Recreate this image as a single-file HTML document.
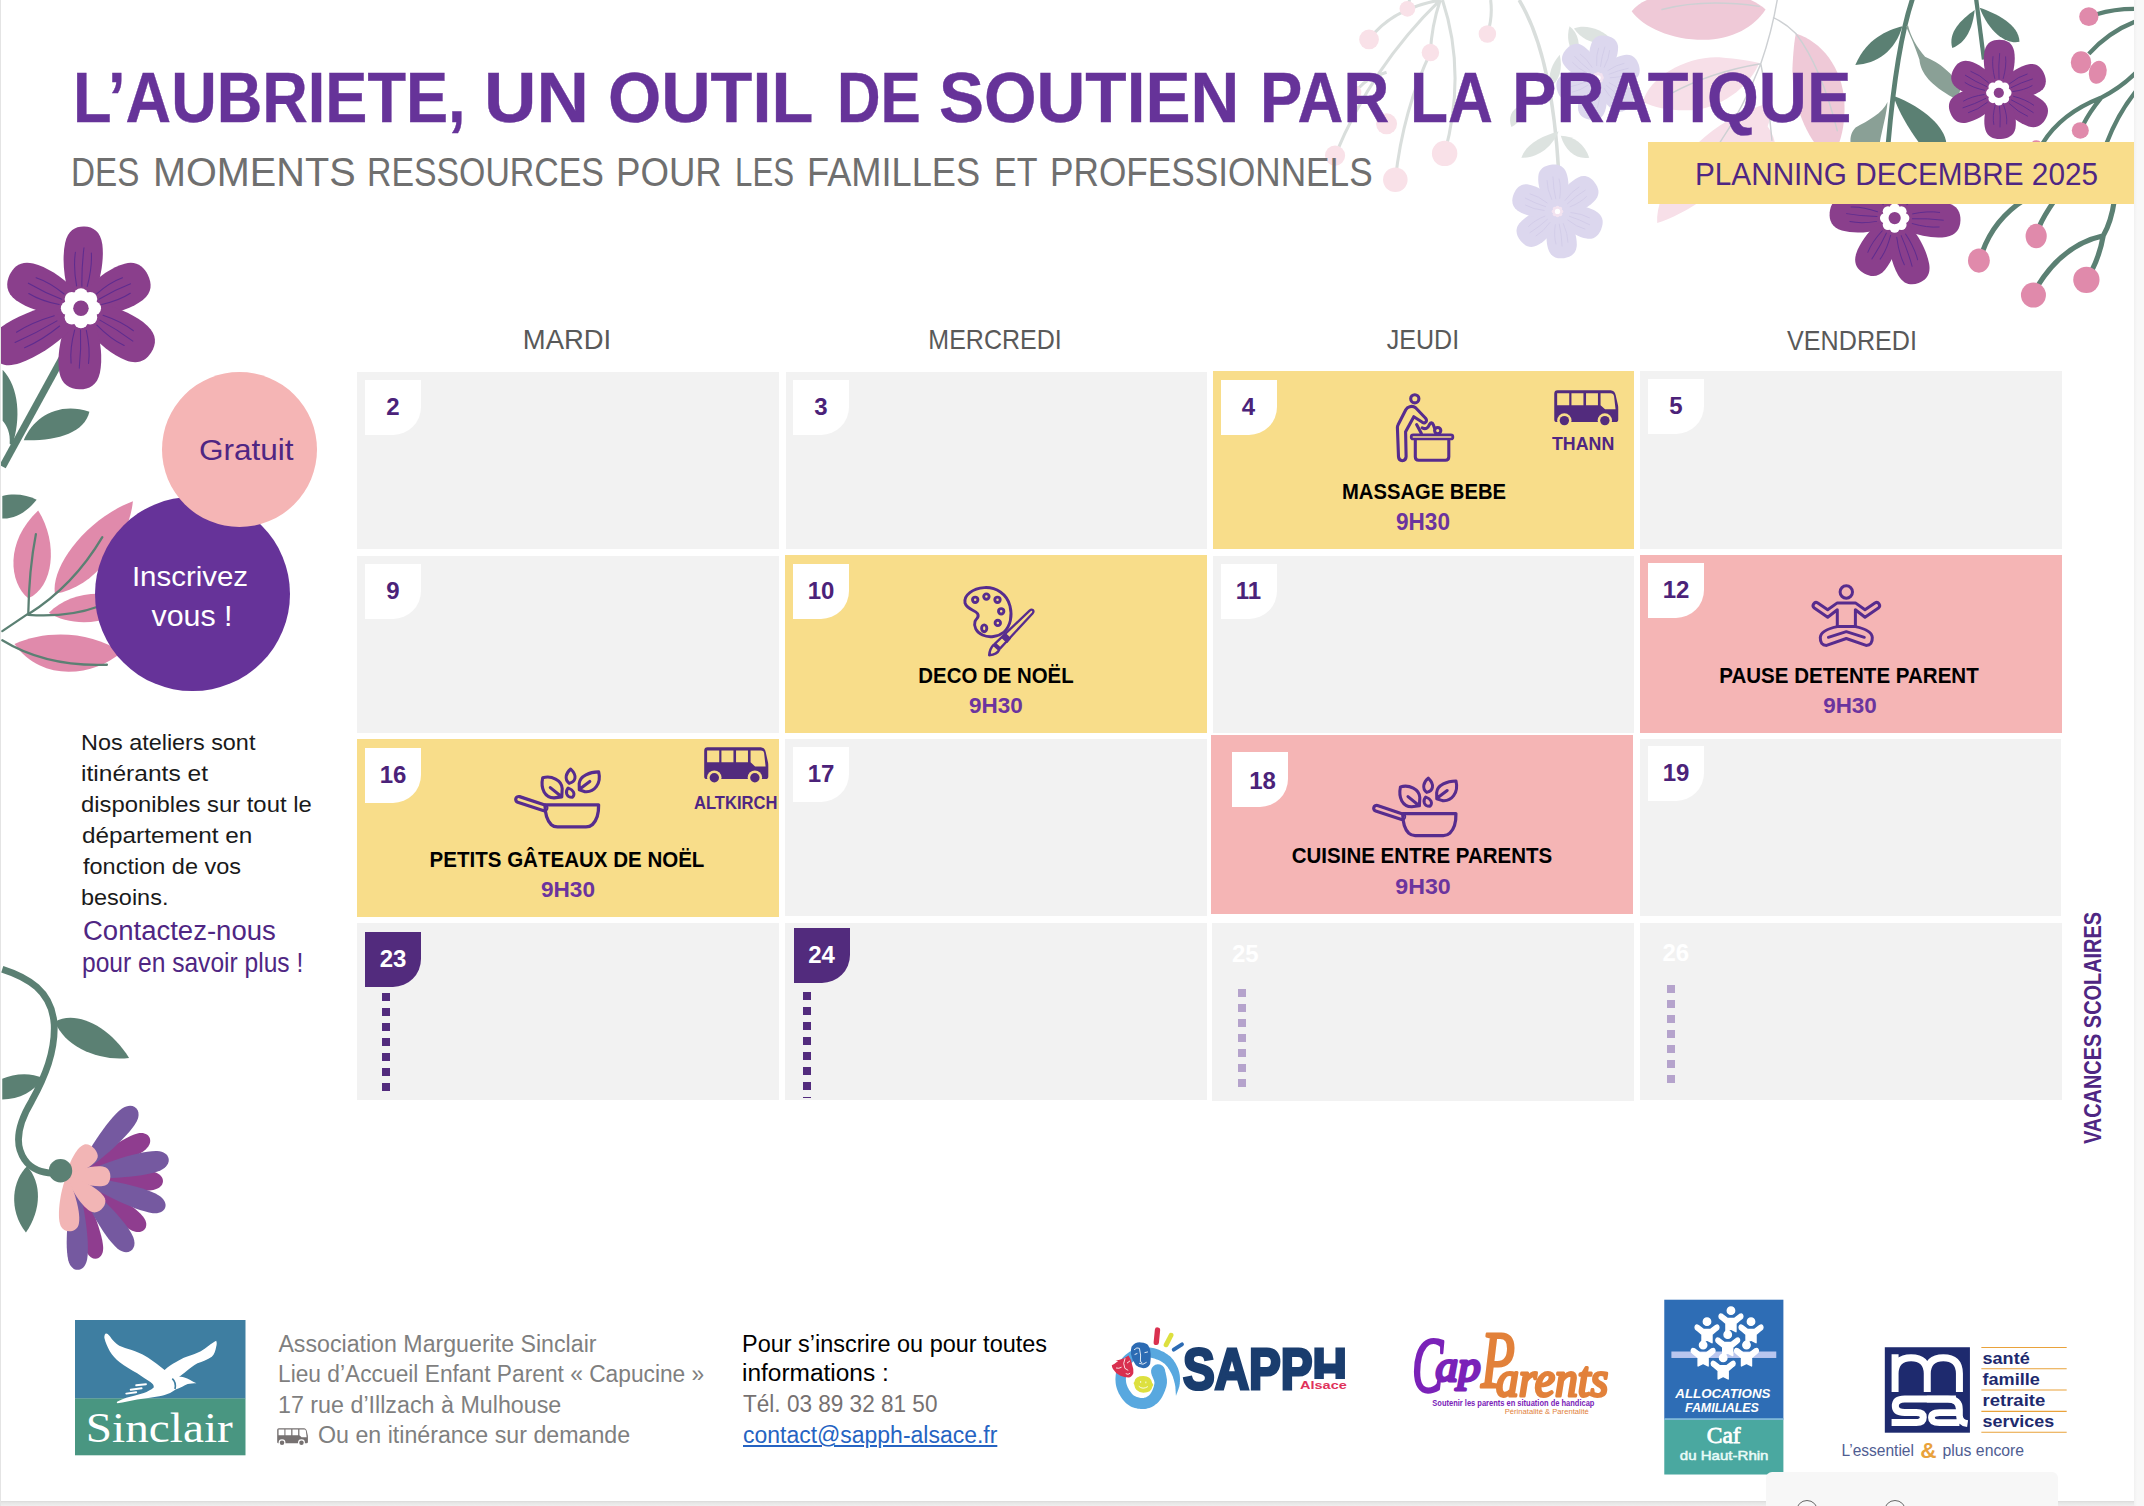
<!DOCTYPE html>
<html lang="fr">
<head>
<meta charset="utf-8">
<title>L’Aubriete – Planning décembre 2025</title>
<style>
*{box-sizing:border-box;margin:0;padding:0}
html,body{width:2144px;height:1506px;overflow:hidden;background:#f8f8f8;font-family:"Liberation Sans",sans-serif}
#page{position:absolute;left:0;top:0;width:2134px;height:1501px;background:#fff;overflow:hidden}
.a{position:absolute}
.t{position:absolute;white-space:nowrap;transform-origin:0 0;line-height:1}
.c{position:absolute;white-space:nowrap;line-height:1;text-align:center;transform-origin:50% 0}
.cell{position:absolute;width:421.5px;height:177px;background:#f2f2f2}
.y{background:#f8dd8a}
.p{background:#f5b5b5}
.bd{position:absolute;width:56px;height:55px;background:#fff;border-bottom-right-radius:28px;color:#4b2279;font-weight:bold;font-size:24px;line-height:53.6px;text-align:center}
.bd.dk{background:#522b7d;color:#fff}
.ttl{font-weight:bold;color:#000;font-size:22px}
.hr{font-weight:bold;color:#6b349e;font-size:23px}
.day{color:#595959;font-size:26px}
.dots{position:absolute;width:8px}
.dots i{display:block;width:8px;height:8px;margin-bottom:7px;background:#522b7d}
.dots.lt i{background:#b5a3cc}
svg{position:absolute;overflow:visible}
/*FIT*/
#pl{font-size:31.56px !important;top:159.00px !important;left:1695.10px !important;transform:scaleX(0.9420)}
#d1{font-size:27.09px !important;top:326.00px !important;left:367.40px !important;transform:scaleX(1.0136)}
#d2{font-size:27.09px !important;top:326.00px !important;left:795.20px !important;transform:scaleX(0.9226)}
#d3{font-size:27.09px !important;top:326.00px !important;left:1223.00px !important;transform:scaleX(0.9239)}
#d4{font-size:27.23px !important;top:327.00px !important;left:1651.60px !important;transform:scaleX(0.9230)}
#gr{font-size:29.75px !important;top:435.00px !important;left:198.80px !important;transform:scaleX(1.0597)}
#in1{font-size:28.49px !important;top:562.00px !important;left:90.30px !important;transform:scaleX(1.0337)}
#in2{font-size:28.90px !important;top:602.00px !important;left:91.90px !important;transform:scaleX(1.0520)}
#n1{font-size:21.93px !important;top:732.00px !important;left:81.10px !important;transform:scaleX(1.0681)}
#n2{font-size:21.93px !important;top:763.00px !important;left:81.40px !important;transform:scaleX(1.1213)}
#n3{font-size:21.93px !important;top:794.00px !important;left:81.00px !important;transform:scaleX(1.0881)}
#n4{font-size:21.93px !important;top:825.00px !important;left:81.60px !important;transform:scaleX(1.1095)}
#n5{font-size:21.93px !important;top:856.00px !important;left:83.40px !important;transform:scaleX(1.0723)}
#n6{font-size:21.93px !important;top:887.00px !important;left:81.30px !important;transform:scaleX(1.0708)}
#n7{font-size:27.79px !important;top:917.00px !important;left:82.80px !important;transform:scaleX(0.9906)}
#n8{font-size:27.36px !important;top:949.00px !important;left:81.80px !important;transform:scaleX(0.8980)}
#e4t{font-size:22.63px !important;top:481.00px !important;left:1213.60px !important;transform:scaleX(0.8933)}
#e4h{font-size:23.18px !important;top:511.00px !important;left:1212.60px !important;transform:scaleX(0.9735)}
#thann{font-size:18.30px !important;top:435.00px !important;left:1551.80px !important;transform:scaleX(0.9728)}
#e10t{font-size:22.63px !important;top:665.00px !important;left:785.70px !important;transform:scaleX(0.9018)}
#e10h{font-size:22.91px !important;top:694.00px !important;left:785.70px !important;transform:scaleX(0.9821)}
#e12t{font-size:22.49px !important;top:665.00px !important;left:1638.80px !important;transform:scaleX(0.9135)}
#e12h{font-size:22.91px !important;top:694.00px !important;left:1640.20px !important;transform:scaleX(0.9786)}
#e16t{font-size:22.63px !important;top:849.00px !important;left:357.20px !important;transform:scaleX(0.9070)}
#e16h{font-size:22.77px !important;top:878.00px !important;left:358.00px !important;transform:scaleX(0.9934)}
#e18t{font-size:22.77px !important;top:844.00px !important;left:1211.70px !important;transform:scaleX(0.9007)}
#e18h{font-size:22.91px !important;top:875.00px !important;left:1212.50px !important;transform:scaleX(1.0125)}
#altk{font-size:18.16px !important;top:794.00px !important;left:694.30px !important;transform:scaleX(0.9124)}
#f1{font-size:23.18px !important;top:1333.00px !important;left:278.40px !important;transform:scaleX(1.0000)}
#f2{font-size:23.18px !important;top:1363.00px !important;left:277.90px !important;transform:scaleX(0.9819)}
#f3{font-size:23.18px !important;top:1394.00px !important;left:278.30px !important;transform:scaleX(1.0043)}
#f4{font-size:23.18px !important;top:1424.00px !important;left:318.20px !important;transform:scaleX(1.0013)}
#g1{font-size:23.04px !important;top:1333.00px !important;left:742.20px !important;transform:scaleX(1.0182)}
#g2{font-size:23.04px !important;top:1362.00px !important;left:741.60px !important;transform:scaleX(1.0612)}
#g3{font-size:23.04px !important;top:1393.00px !important;left:743.00px !important;transform:scaleX(0.9797)}
#g4{font-size:23.04px !important;top:1424.00px !important;left:743.10px !important;transform:scaleX(0.9969)}
#h1a{font-size:71.23px !important;top:62.00px !important;left:73.20px !important;transform:scaleX(0.8857)}
#h1b{font-size:71.23px !important;top:62.00px !important;left:483.70px !important;transform:scaleX(1.0192)}
#h1c{font-size:71.23px !important;top:62.00px !important;left:607.90px !important;transform:scaleX(0.9606)}
#h1d{font-size:71.23px !important;top:62.00px !important;left:837.40px !important;transform:scaleX(0.8462)}
#h1e{font-size:71.23px !important;top:62.00px !important;left:939.00px !important;transform:scaleX(0.9484)}
#h1f{font-size:71.23px !important;top:62.00px !important;left:1259.70px !important;transform:scaleX(0.8907)}
#h1g{font-size:71.23px !important;top:62.00px !important;left:1410.10px !important;transform:scaleX(0.8728)}
#h1h{font-size:71.23px !important;top:62.00px !important;left:1511.60px !important;transform:scaleX(0.9358)}
#h2a{font-size:40.36px !important;top:152.00px !important;left:71.30px !important;transform:scaleX(0.8232)}
#h2b{font-size:40.36px !important;top:152.00px !important;left:152.50px !important;transform:scaleX(0.9821)}
#h2c{font-size:40.36px !important;top:152.00px !important;left:366.50px !important;transform:scaleX(0.8381)}
#h2d{font-size:40.36px !important;top:152.00px !important;left:615.70px !important;transform:scaleX(0.9073)}
#h2e{font-size:40.36px !important;top:152.00px !important;left:735.00px !important;transform:scaleX(0.7748)}
#h2f{font-size:40.36px !important;top:152.00px !important;left:806.70px !important;transform:scaleX(0.8979)}
#h2g{font-size:40.36px !important;top:152.00px !important;left:993.60px !important;transform:scaleX(0.8420)}
#h2h{font-size:40.36px !important;top:152.00px !important;left:1049.70px !important;transform:scaleX(0.8718)}
/*ENDFIT*/
</style>
</head>
<body>
<div id="page">
<!--FLORA-BG-->
<svg style="left:0;top:0" width="2134" height="1501" viewBox="0 0 2134 1501">
<g transform="translate(0 215) scale(0.17596)"><path d="M390 745L15 1430" stroke="#5b8073" stroke-width="40" fill="none"/><path d="M135 1280C190 1150 330 1060 508 1118C480 1240 320 1285 135 1280Z" fill="#5b8073"/><path d="M15 880C110 980 120 1160 70 1310L55 1300C60 1240 40 1200 15 1170Z" fill="#5b8073"/><g transform="translate(460 530)"><path transform="rotate(2.5)" d="M0 0L-77.8 -93.1C-108.0 -186.2 -118.8 -288.6 -105.8 -367.7C-92.9 -442.2 -48.6 -465.4 0 -465.4C48.6 -465.4 92.9 -442.2 105.8 -367.7C118.8 -288.6 108.0 -186.2 77.8 -93.1Z" fill="#8a3f8c"/><path transform="rotate(63.4)" d="M0 0L-85.0 -85.0C-118.0 -169.9 -129.8 -263.4 -115.6 -335.6C-101.5 -403.6 -53.1 -424.9 0 -424.9C53.1 -424.9 101.5 -403.6 115.6 -335.6C129.8 -263.4 118.0 -169.9 85.0 -85.0Z" fill="#8a3f8c"/><path transform="rotate(122.0)" d="M0 0L-85.0 -94.3C-118.0 -188.7 -129.8 -292.5 -115.6 -372.6C-101.5 -448.1 -53.1 -471.7 0 -471.7C53.1 -471.7 101.5 -448.1 115.6 -372.6C129.8 -292.5 118.0 -188.7 85.0 -94.3Z" fill="#8a3f8c"/><path transform="rotate(-178.8)" d="M0 0L-85.0 -92.0C-118.0 -184.0 -129.8 -285.3 -115.6 -363.5C-101.5 -437.1 -53.1 -460.1 0 -460.1C53.1 -460.1 101.5 -437.1 115.6 -363.5C129.8 -285.3 118.0 -184.0 85.0 -92.0Z" fill="#8a3f8c"/><path transform="rotate(-117.7)" d="M0 0L-85.0 -114.1C-118.0 -228.1 -129.8 -353.6 -115.6 -450.5C-101.5 -541.8 -53.1 -570.3 0 -570.3C53.1 -570.3 101.5 -541.8 115.6 -450.5C129.8 -353.6 118.0 -228.1 85.0 -114.1Z" fill="#8a3f8c"/><path transform="rotate(-64.9)" d="M0 0L-85.0 -89.5C-118.0 -178.9 -129.8 -277.4 -115.6 -353.4C-101.5 -425.0 -53.1 -447.4 0 -447.4C53.1 -447.4 101.5 -425.0 115.6 -353.4C129.8 -277.4 118.0 -178.9 85.0 -89.5Z" fill="#8a3f8c"/><path transform="rotate(2.5)" d="M-30.2 -125.7Q-54.0 -232.7 -45.4 -316.5M0 -125.7Q-6.5 -232.7 2.2 -344.4M30.2 -125.7Q54.0 -232.7 45.4 -316.5" fill="none" stroke="#5e2c8f" stroke-width="6" stroke-linecap="round"/><path transform="rotate(63.4)" d="M-33.0 -114.7Q-59.0 -212.4 -49.6 -288.9M0 -114.7Q-7.1 -212.4 2.4 -314.4M33.0 -114.7Q59.0 -212.4 49.6 -288.9" fill="none" stroke="#5e2c8f" stroke-width="6" stroke-linecap="round"/><path transform="rotate(122.0)" d="M-33.0 -127.4Q-59.0 -235.8 -49.6 -320.8M0 -127.4Q-7.1 -235.8 2.4 -349.1M33.0 -127.4Q59.0 -235.8 49.6 -320.8" fill="none" stroke="#5e2c8f" stroke-width="6" stroke-linecap="round"/><path transform="rotate(-178.8)" d="M-33.0 -124.2Q-59.0 -230.1 -49.6 -312.9M0 -124.2Q-7.1 -230.1 2.4 -340.5M33.0 -124.2Q59.0 -230.1 49.6 -312.9" fill="none" stroke="#5e2c8f" stroke-width="6" stroke-linecap="round"/><path transform="rotate(-117.7)" d="M-33.0 -154.0Q-59.0 -285.2 -49.6 -387.8M0 -154.0Q-7.1 -285.2 2.4 -422.0M33.0 -154.0Q59.0 -285.2 49.6 -387.8" fill="none" stroke="#5e2c8f" stroke-width="6" stroke-linecap="round"/><path transform="rotate(-64.9)" d="M-33.0 -120.8Q-59.0 -223.7 -49.6 -304.2M0 -120.8Q-7.1 -223.7 2.4 -331.0M33.0 -120.8Q59.0 -223.7 49.6 -304.2" fill="none" stroke="#5e2c8f" stroke-width="6" stroke-linecap="round"/><circle r="87.4" fill="#fff"/><circle cx="73.9" cy="0.0" r="40.3" fill="#fff"/><circle cx="52.3" cy="52.3" r="40.3" fill="#fff"/><circle cx="0.0" cy="73.9" r="40.3" fill="#fff"/><circle cx="-52.3" cy="52.3" r="40.3" fill="#fff"/><circle cx="-73.9" cy="0.0" r="40.3" fill="#fff"/><circle cx="-52.3" cy="-52.3" r="40.3" fill="#fff"/><circle cx="-0.0" cy="-73.9" r="40.3" fill="#fff"/><circle cx="52.3" cy="-52.3" r="40.3" fill="#fff"/><circle r="44" fill="#8a3f8c"/></g></g>
<g transform="translate(0 470) scale(0.15274)"><path d="M15 170C100 150 180 165 240 195C180 270 100 322 15 318Z" fill="#5b8073"/><path d="M185 840C60 740 30 470 250 265C385 480 350 770 185 840Z" fill="#e08aab"/><path d="M360 810C330 640 560 320 870 205C850 430 640 770 360 810Z" fill="#e08aab"/><path d="M320 935C420 835 560 795 720 815L720 965C600 1015 420 1005 320 935Z" fill="#e08aab"/><path d="M95 1140C300 1045 600 1055 795 1195C620 1345 280 1400 95 1140Z" fill="#e08aab"/><path d="M15 1055L185 940M185 945Q190 650 235 420M185 945Q480 760 670 440M185 948Q450 965 640 895M15 1115Q300 1290 700 1275" stroke="#5b8073" stroke-width="15" fill="none" stroke-linecap="round"/></g>
<g transform="translate(0 950) scale(0.22573)"><path d="M10 85C120 120 230 180 240 330C245 450 200 560 140 670C80 770 60 860 110 930C140 975 190 985 235 990" stroke="#5b8073" stroke-width="30" fill="none"/><path d="M243 318C330 265 480 330 572 478C450 495 290 435 243 318Z" fill="#5b8073"/><path d="M190 568C135 540 60 548 10 570L10 662C85 662 155 625 190 568Z" fill="#5b8073"/><path d="M120 958C55 1020 35 1150 115 1252C185 1150 185 1030 120 958Z" fill="#5b8073"/><path transform="translate(335 1005) rotate(61.7)" d="M0 0C-26.4 -73.8 -57.2 -258.4 -39.6 -332.2C-26.4 -383.9 26.4 -383.9 39.6 -332.2C57.2 -258.4 26.4 -73.8 0 0Z" fill="#8f3d8f"/><path transform="translate(335 1005) rotate(93.0)" d="M0 0C-26.4 -77.1 -57.2 -269.9 -39.6 -347.0C-26.4 -400.9 26.4 -400.9 39.6 -347.0C57.2 -269.9 26.4 -77.1 0 0Z" fill="#8f3d8f"/><path transform="translate(335 1005) rotate(127.0)" d="M0 0C-26.4 -76.4 -57.2 -267.4 -39.6 -343.8C-26.4 -397.3 26.4 -397.3 39.6 -343.8C57.2 -267.4 26.4 -76.4 0 0Z" fill="#8f3d8f"/><path transform="translate(335 1005) rotate(165.2)" d="M0 0C-25.2 -74.5 -54.6 -260.6 -37.8 -335.1C-25.2 -387.2 25.2 -387.2 37.8 -335.1C54.6 -260.6 25.2 -74.5 0 0Z" fill="#8f3d8f"/><path transform="translate(335 1005) rotate(41.0)" d="M0 0C-28.8 -80.8 -62.4 -282.8 -43.2 -363.6C-28.8 -420.2 28.8 -420.2 43.2 -363.6C62.4 -282.8 28.8 -80.8 0 0Z" fill="#7559a0"/><path transform="translate(335 1005) rotate(79.0)" d="M0 0C-28.8 -83.5 -62.4 -292.4 -43.2 -376.0C-28.8 -434.4 28.8 -434.4 43.2 -376.0C62.4 -292.4 28.8 -83.5 0 0Z" fill="#7559a0"/><path transform="translate(335 1005) rotate(108.9)" d="M0 0C-27.6 -83.5 -59.8 -292.2 -41.4 -375.7C-27.6 -434.1 27.6 -434.1 41.4 -375.7C59.8 -292.2 27.6 -83.5 0 0Z" fill="#7559a0"/><path transform="translate(335 1005) rotate(143.0)" d="M0 0C-28.8 -81.4 -62.4 -284.9 -43.2 -366.3C-28.8 -423.3 28.8 -423.3 43.2 -366.3C62.4 -284.9 28.8 -81.4 0 0Z" fill="#7559a0"/><path transform="translate(335 1005) rotate(178.6)" d="M0 0C-27.6 -82.0 -59.8 -287.1 -41.4 -369.1C-27.6 -426.5 27.6 -426.5 41.4 -369.1C59.8 -287.1 27.6 -82.0 0 0Z" fill="#7559a0"/><path transform="translate(295 1000) rotate(44.5)" d="M0 0C-27.6 -34.2 -59.8 -119.8 -41.4 -154.0C-27.6 -178.0 27.6 -178.0 41.4 -154.0C59.8 -119.8 27.6 -34.2 0 0Z" fill="#f2b5b5"/><path transform="translate(295 1000) rotate(90.9)" d="M0 0C-26.4 -38.6 -57.2 -135.1 -39.6 -173.7C-26.4 -200.7 26.4 -200.7 39.6 -173.7C57.2 -135.1 26.4 -38.6 0 0Z" fill="#f2b5b5"/><path transform="translate(295 1000) rotate(132.7)" d="M0 0C-27.6 -42.7 -59.8 -149.6 -41.4 -192.3C-27.6 -222.3 27.6 -222.3 41.4 -192.3C59.8 -149.6 27.6 -42.7 0 0Z" fill="#f2b5b5"/><path transform="translate(295 1000) rotate(176.5)" d="M0 0C-26.4 -49.1 -57.2 -171.8 -39.6 -220.9C-26.4 -255.3 26.4 -255.3 39.6 -220.9C57.2 -171.8 26.4 -49.1 0 0Z" fill="#f2b5b5"/><circle cx="268" cy="978" r="52" fill="#5b8073"/></g>
<g transform="translate(1300 0) scale(0.21915)"><path d="M640 0Q420 40 315 180M640 0Q600 120 595 240M640 0Q330 300 160 710M650 0Q760 330 660 700M600 230Q470 500 435 820M870 0Q880 80 855 155M500 0L490 40M395 330Q300 360 270 400" stroke="#d9dedc" stroke-width="14" fill="none"/><circle cx="315" cy="180" r="45" fill="#f9e1e8"/><circle cx="490" cy="40" r="36" fill="#f9e1e8"/><circle cx="595" cy="240" r="40" fill="#f9e1e8"/><circle cx="855" cy="155" r="40" fill="#f9e1e8"/><circle cx="395" cy="565" r="48" fill="#f9e1e8"/><circle cx="160" cy="710" r="46" fill="#f9e1e8"/><circle cx="660" cy="700" r="58" fill="#f9e1e8"/><circle cx="435" cy="820" r="56" fill="#f9e1e8"/><circle cx="250" cy="420" r="30" fill="#f9e1e8"/><path d="M1000 0Q1150 250 1180 780" stroke="#d9dedc" stroke-width="16" fill="none"/><path d="M1250 130C1300 110 1380 130 1425 185C1370 215 1290 190 1250 130Z" fill="#dde3e0"/><path d="M1185 250C1150 290 1130 340 1140 400C1185 370 1200 310 1185 250Z" fill="#dde3e0"/><path d="M1230 120C1215 170 1225 220 1260 260C1285 210 1270 150 1230 120Z" fill="#dde3e0"/><path d="M1180 600C1100 620 1030 660 1010 720C1090 720 1150 670 1180 600Z" fill="#dde3e0"/><path d="M1190 620C1250 620 1300 660 1320 720C1260 730 1210 690 1190 620Z" fill="#dde3e0"/><path d="M1010 480C960 500 950 540 965 580C1005 560 1020 520 1010 480Z" fill="#dde3e0"/><g transform="translate(1360 355)"><path transform="rotate(12.0)" d="M0 0L-44.6 -39.0C-62.0 -78.0 -68.2 -120.9 -60.8 -154.1C-53.3 -185.2 -27.9 -195.0 0 -195.0C27.9 -195.0 53.3 -185.2 60.8 -154.1C68.2 -120.9 62.0 -78.0 44.6 -39.0Z" fill="#dcd7ee"/><path transform="rotate(72.0)" d="M0 0L-44.6 -39.0C-62.0 -78.0 -68.2 -120.9 -60.8 -154.1C-53.3 -185.2 -27.9 -195.0 0 -195.0C27.9 -195.0 53.3 -185.2 60.8 -154.1C68.2 -120.9 62.0 -78.0 44.6 -39.0Z" fill="#dcd7ee"/><path transform="rotate(132.0)" d="M0 0L-44.6 -39.0C-62.0 -78.0 -68.2 -120.9 -60.8 -154.1C-53.3 -185.2 -27.9 -195.0 0 -195.0C27.9 -195.0 53.3 -185.2 60.8 -154.1C68.2 -120.9 62.0 -78.0 44.6 -39.0Z" fill="#dcd7ee"/><path transform="rotate(192.0)" d="M0 0L-44.6 -39.0C-62.0 -78.0 -68.2 -120.9 -60.8 -154.1C-53.3 -185.2 -27.9 -195.0 0 -195.0C27.9 -195.0 53.3 -185.2 60.8 -154.1C68.2 -120.9 62.0 -78.0 44.6 -39.0Z" fill="#dcd7ee"/><path transform="rotate(252.0)" d="M0 0L-44.6 -39.0C-62.0 -78.0 -68.2 -120.9 -60.8 -154.1C-53.3 -185.2 -27.9 -195.0 0 -195.0C27.9 -195.0 53.3 -185.2 60.8 -154.1C68.2 -120.9 62.0 -78.0 44.6 -39.0Z" fill="#dcd7ee"/><path transform="rotate(312.0)" d="M0 0L-44.6 -39.0C-62.0 -78.0 -68.2 -120.9 -60.8 -154.1C-53.3 -185.2 -27.9 -195.0 0 -195.0C27.9 -195.0 53.3 -185.2 60.8 -154.1C68.2 -120.9 62.0 -78.0 44.6 -39.0Z" fill="#dcd7ee"/><path transform="rotate(12.0)" d="M-17.4 -52.7Q-31.0 -97.5 -26.0 -132.6M0 -52.7Q-3.7 -97.5 1.2 -144.3M17.4 -52.7Q31.0 -97.5 26.0 -132.6" fill="none" stroke="#d2cce8" stroke-width="4" stroke-linecap="round"/><path transform="rotate(72.0)" d="M-17.4 -52.7Q-31.0 -97.5 -26.0 -132.6M0 -52.7Q-3.7 -97.5 1.2 -144.3M17.4 -52.7Q31.0 -97.5 26.0 -132.6" fill="none" stroke="#d2cce8" stroke-width="4" stroke-linecap="round"/><path transform="rotate(132.0)" d="M-17.4 -52.7Q-31.0 -97.5 -26.0 -132.6M0 -52.7Q-3.7 -97.5 1.2 -144.3M17.4 -52.7Q31.0 -97.5 26.0 -132.6" fill="none" stroke="#d2cce8" stroke-width="4" stroke-linecap="round"/><path transform="rotate(192.0)" d="M-17.4 -52.7Q-31.0 -97.5 -26.0 -132.6M0 -52.7Q-3.7 -97.5 1.2 -144.3M17.4 -52.7Q31.0 -97.5 26.0 -132.6" fill="none" stroke="#d2cce8" stroke-width="4" stroke-linecap="round"/><path transform="rotate(252.0)" d="M-17.4 -52.7Q-31.0 -97.5 -26.0 -132.6M0 -52.7Q-3.7 -97.5 1.2 -144.3M17.4 -52.7Q31.0 -97.5 26.0 -132.6" fill="none" stroke="#d2cce8" stroke-width="4" stroke-linecap="round"/><path transform="rotate(312.0)" d="M-17.4 -52.7Q-31.0 -97.5 -26.0 -132.6M0 -52.7Q-3.7 -97.5 1.2 -144.3M17.4 -52.7Q31.0 -97.5 26.0 -132.6" fill="none" stroke="#d2cce8" stroke-width="4" stroke-linecap="round"/><circle r="20.3" fill="#f3e3f0"/><circle cx="17.2" cy="0.0" r="9.4" fill="#f3e3f0"/><circle cx="12.1" cy="12.1" r="9.4" fill="#f3e3f0"/><circle cx="0.0" cy="17.2" r="9.4" fill="#f3e3f0"/><circle cx="-12.1" cy="12.1" r="9.4" fill="#f3e3f0"/><circle cx="-17.2" cy="0.0" r="9.4" fill="#f3e3f0"/><circle cx="-12.1" cy="-12.1" r="9.4" fill="#f3e3f0"/><circle cx="-0.0" cy="-17.2" r="9.4" fill="#f3e3f0"/><circle cx="12.1" cy="-12.1" r="9.4" fill="#f3e3f0"/><circle r="12" fill="#fff"/></g><g transform="translate(1175 965)"><path transform="rotate(-8.0)" d="M0 0L-47.5 -43.0C-66.0 -86.0 -72.6 -133.3 -64.7 -169.8C-56.8 -204.2 -29.7 -215.0 0 -215.0C29.7 -215.0 56.8 -204.2 64.7 -169.8C72.6 -133.3 66.0 -86.0 47.5 -43.0Z" fill="#dcd7ee"/><path transform="rotate(52.0)" d="M0 0L-47.5 -43.0C-66.0 -86.0 -72.6 -133.3 -64.7 -169.8C-56.8 -204.2 -29.7 -215.0 0 -215.0C29.7 -215.0 56.8 -204.2 64.7 -169.8C72.6 -133.3 66.0 -86.0 47.5 -43.0Z" fill="#dcd7ee"/><path transform="rotate(112.0)" d="M0 0L-47.5 -43.0C-66.0 -86.0 -72.6 -133.3 -64.7 -169.8C-56.8 -204.2 -29.7 -215.0 0 -215.0C29.7 -215.0 56.8 -204.2 64.7 -169.8C72.6 -133.3 66.0 -86.0 47.5 -43.0Z" fill="#dcd7ee"/><path transform="rotate(172.0)" d="M0 0L-47.5 -43.0C-66.0 -86.0 -72.6 -133.3 -64.7 -169.8C-56.8 -204.2 -29.7 -215.0 0 -215.0C29.7 -215.0 56.8 -204.2 64.7 -169.8C72.6 -133.3 66.0 -86.0 47.5 -43.0Z" fill="#dcd7ee"/><path transform="rotate(232.0)" d="M0 0L-47.5 -43.0C-66.0 -86.0 -72.6 -133.3 -64.7 -169.8C-56.8 -204.2 -29.7 -215.0 0 -215.0C29.7 -215.0 56.8 -204.2 64.7 -169.8C72.6 -133.3 66.0 -86.0 47.5 -43.0Z" fill="#dcd7ee"/><path transform="rotate(292.0)" d="M0 0L-47.5 -43.0C-66.0 -86.0 -72.6 -133.3 -64.7 -169.8C-56.8 -204.2 -29.7 -215.0 0 -215.0C29.7 -215.0 56.8 -204.2 64.7 -169.8C72.6 -133.3 66.0 -86.0 47.5 -43.0Z" fill="#dcd7ee"/><path transform="rotate(-8.0)" d="M-18.5 -58.1Q-33.0 -107.5 -27.7 -146.2M0 -58.1Q-4.0 -107.5 1.3 -159.1M18.5 -58.1Q33.0 -107.5 27.7 -146.2" fill="none" stroke="#d2cce8" stroke-width="4" stroke-linecap="round"/><path transform="rotate(52.0)" d="M-18.5 -58.1Q-33.0 -107.5 -27.7 -146.2M0 -58.1Q-4.0 -107.5 1.3 -159.1M18.5 -58.1Q33.0 -107.5 27.7 -146.2" fill="none" stroke="#d2cce8" stroke-width="4" stroke-linecap="round"/><path transform="rotate(112.0)" d="M-18.5 -58.1Q-33.0 -107.5 -27.7 -146.2M0 -58.1Q-4.0 -107.5 1.3 -159.1M18.5 -58.1Q33.0 -107.5 27.7 -146.2" fill="none" stroke="#d2cce8" stroke-width="4" stroke-linecap="round"/><path transform="rotate(172.0)" d="M-18.5 -58.1Q-33.0 -107.5 -27.7 -146.2M0 -58.1Q-4.0 -107.5 1.3 -159.1M18.5 -58.1Q33.0 -107.5 27.7 -146.2" fill="none" stroke="#d2cce8" stroke-width="4" stroke-linecap="round"/><path transform="rotate(232.0)" d="M-18.5 -58.1Q-33.0 -107.5 -27.7 -146.2M0 -58.1Q-4.0 -107.5 1.3 -159.1M18.5 -58.1Q33.0 -107.5 27.7 -146.2" fill="none" stroke="#d2cce8" stroke-width="4" stroke-linecap="round"/><path transform="rotate(292.0)" d="M-18.5 -58.1Q-33.0 -107.5 -27.7 -146.2M0 -58.1Q-4.0 -107.5 1.3 -159.1M18.5 -58.1Q33.0 -107.5 27.7 -146.2" fill="none" stroke="#d2cce8" stroke-width="4" stroke-linecap="round"/><circle r="20.3" fill="#f3e3f0"/><circle cx="17.2" cy="0.0" r="9.4" fill="#f3e3f0"/><circle cx="12.1" cy="12.1" r="9.4" fill="#f3e3f0"/><circle cx="0.0" cy="17.2" r="9.4" fill="#f3e3f0"/><circle cx="-12.1" cy="12.1" r="9.4" fill="#f3e3f0"/><circle cx="-17.2" cy="0.0" r="9.4" fill="#f3e3f0"/><circle cx="-12.1" cy="-12.1" r="9.4" fill="#f3e3f0"/><circle cx="-0.0" cy="-17.2" r="9.4" fill="#f3e3f0"/><circle cx="12.1" cy="-12.1" r="9.4" fill="#f3e3f0"/><circle r="12" fill="#fff"/></g></g>
<g transform="translate(1560 0) scale(0.15934)"><path d="M610 1400C600 1200 800 900 1050 760C1200 680 1290 650 1330 640C1340 800 1200 1050 900 1250C800 1320 700 1370 610 1400Z" fill="#f7dfe8"/><path d="M520 640C560 480 800 350 1000 360C1120 370 1200 385 1250 395C1200 520 1050 660 850 690C720 700 600 680 520 640Z" fill="#f7dfe8"/><path d="M1200 700C1260 740 1330 800 1350 900L1180 900C1170 820 1180 760 1200 700Z" fill="#f7dfe8"/><path d="M450 70C520 -20 700 -60 900 -60C1080 -60 1230 0 1290 60C1220 170 1080 250 900 250C700 250 520 170 450 70Z" fill="#efc9d7"/><path d="M1480 210C1640 260 1770 420 1785 640C1790 760 1770 850 1750 900L1600 900C1500 760 1450 560 1460 400C1465 320 1470 260 1480 210Z" fill="#efc9d7"/><path d="M1365 -10Q1330 200 1260 400Q1150 680 1000 900M1340 110Q1420 150 1480 210Q1640 420 1740 820M1260 400Q950 450 690 590M1260 400Q1310 640 1330 880M640 60Q900 -10 1250 40" stroke="#cdd0d3" stroke-width="9" fill="none" stroke-linecap="round"/></g>
<g transform="translate(1840 0) scale(0.14178)"><path d="M512 -10Q400 320 340 1010" stroke="#5b8073" stroke-width="34" fill="none"/><path d="M960 -10L1015 420" stroke="#5b8073" stroke-width="30" fill="none"/><path d="M440 185C330 215 190 270 108 458C260 450 390 360 440 185Z" fill="#5b8073"/><path d="M465 185C500 260 530 330 560 420C570 520 640 600 800 690C830 690 845 660 850 620C800 520 700 440 600 400C540 330 500 260 480 180Z" fill="#8aa096"/><path d="M375 675C420 800 480 900 560 1010L750 1010C740 900 600 760 375 675Z" fill="#5b8073"/><path d="M335 720C300 800 200 850 110 900C80 930 70 970 75 1010L280 1010C300 900 330 800 335 720Z" fill="#8aa096"/><path d="M950 70C850 140 760 230 792 338C890 300 935 200 950 70Z" fill="#5b8073"/><path d="M985 55C1100 95 1262 170 1266 295C1190 315 1060 250 985 55Z" fill="#5b8073"/><path d="M1810 100Q1940 60 2090 62M1755 380Q1900 220 2090 150M1430 1010Q1560 800 1840 690Q1980 620 2090 510M1840 692Q1760 790 1715 880M1880 1010Q1960 800 2090 640" stroke="#5b8073" stroke-width="30" fill="none"/><ellipse cx="1755" cy="118" rx="68" ry="66" fill="#e08aab" transform="rotate(0 1755 118)"/><ellipse cx="1700" cy="440" rx="72" ry="78" fill="#e08aab" transform="rotate(0 1700 440)"/><ellipse cx="1818" cy="510" rx="62" ry="82" fill="#e08aab" transform="rotate(15 1818 510)"/><ellipse cx="1695" cy="920" rx="60" ry="58" fill="#e08aab" transform="rotate(0 1695 920)"/><ellipse cx="1385" cy="1040" rx="50" ry="50" fill="#e08aab" transform="rotate(0 1385 1040)"/><g transform="translate(1120 655)"><path transform="rotate(0.8)" d="M0 0L-76.3 -75.0C-106.0 -150.0 -116.6 -232.5 -103.9 -296.3C-91.2 -356.3 -47.7 -375.0 0 -375.0C47.7 -375.0 91.2 -356.3 103.9 -296.3C116.6 -232.5 106.0 -150.0 76.3 -75.0Z" fill="#8a3f8c"/><path transform="rotate(67.1)" d="M0 0L-76.3 -69.5C-106.0 -138.9 -116.6 -215.3 -103.9 -274.4C-91.2 -329.9 -47.7 -347.3 0 -347.3C47.7 -347.3 91.2 -329.9 103.9 -274.4C116.6 -215.3 106.0 -138.9 76.3 -69.5Z" fill="#8a3f8c"/><path transform="rotate(119.3)" d="M0 0L-76.3 -75.7C-106.0 -151.3 -116.6 -234.6 -103.9 -298.9C-91.2 -359.4 -47.7 -378.3 0 -378.3C47.7 -378.3 91.2 -359.4 103.9 -298.9C116.6 -234.6 106.0 -151.3 76.3 -75.7Z" fill="#8a3f8c"/><path transform="rotate(177.4)" d="M0 0L-77.8 -65.1C-108.0 -130.1 -118.8 -201.7 -105.8 -257.0C-92.9 -309.1 -48.6 -325.3 0 -325.3C48.6 -325.3 92.9 -309.1 105.8 -257.0C118.8 -201.7 108.0 -130.1 77.8 -65.1Z" fill="#8a3f8c"/><path transform="rotate(-113.1)" d="M0 0L-76.3 -73.9C-106.0 -147.9 -116.6 -229.2 -103.9 -292.0C-91.2 -351.1 -47.7 -369.6 0 -369.6C47.7 -369.6 91.2 -351.1 103.9 -292.0C116.6 -229.2 106.0 -147.9 76.3 -73.9Z" fill="#8a3f8c"/><path transform="rotate(-62.7)" d="M0 0L-76.3 -72.0C-106.0 -144.0 -116.6 -223.2 -103.9 -284.4C-91.2 -342.0 -47.7 -360.0 0 -360.0C47.7 -360.0 91.2 -342.0 103.9 -284.4C116.6 -223.2 106.0 -144.0 76.3 -72.0Z" fill="#8a3f8c"/><path transform="rotate(0.8)" d="M-29.7 -101.3Q-53.0 -187.5 -44.5 -255.0M0 -101.3Q-6.4 -187.5 2.1 -277.5M29.7 -101.3Q53.0 -187.5 44.5 -255.0" fill="none" stroke="#5e2c8f" stroke-width="6" stroke-linecap="round"/><path transform="rotate(67.1)" d="M-29.7 -93.8Q-53.0 -173.7 -44.5 -236.2M0 -93.8Q-6.4 -173.7 2.1 -257.0M29.7 -93.8Q53.0 -173.7 44.5 -236.2" fill="none" stroke="#5e2c8f" stroke-width="6" stroke-linecap="round"/><path transform="rotate(119.3)" d="M-29.7 -102.1Q-53.0 -189.2 -44.5 -257.3M0 -102.1Q-6.4 -189.2 2.1 -280.0M29.7 -102.1Q53.0 -189.2 44.5 -257.3" fill="none" stroke="#5e2c8f" stroke-width="6" stroke-linecap="round"/><path transform="rotate(177.4)" d="M-30.2 -87.8Q-54.0 -162.7 -45.4 -221.2M0 -87.8Q-6.5 -162.7 2.2 -240.8M30.2 -87.8Q54.0 -162.7 45.4 -221.2" fill="none" stroke="#5e2c8f" stroke-width="6" stroke-linecap="round"/><path transform="rotate(-113.1)" d="M-29.7 -99.8Q-53.0 -184.8 -44.5 -251.3M0 -99.8Q-6.4 -184.8 2.1 -273.5M29.7 -99.8Q53.0 -184.8 44.5 -251.3" fill="none" stroke="#5e2c8f" stroke-width="6" stroke-linecap="round"/><path transform="rotate(-62.7)" d="M-29.7 -97.2Q-53.0 -180.0 -44.5 -244.8M0 -97.2Q-6.4 -180.0 2.1 -266.4M29.7 -97.2Q53.0 -180.0 44.5 -244.8" fill="none" stroke="#5e2c8f" stroke-width="6" stroke-linecap="round"/><circle r="68.6" fill="#fff"/><circle cx="58.1" cy="0.0" r="31.7" fill="#fff"/><circle cx="41.1" cy="41.1" r="31.7" fill="#fff"/><circle cx="0.0" cy="58.1" r="31.7" fill="#fff"/><circle cx="-41.1" cy="41.1" r="31.7" fill="#fff"/><circle cx="-58.1" cy="0.0" r="31.7" fill="#fff"/><circle cx="-41.1" cy="-41.1" r="31.7" fill="#fff"/><circle cx="-0.0" cy="-58.1" r="31.7" fill="#fff"/><circle cx="41.1" cy="-41.1" r="31.7" fill="#fff"/><circle r="36" fill="#8a3f8c"/></g></g>
<g transform="translate(1800 190) scale(0.16044)"><path d="M1400 60Q1210 180 1135 390M1590 60Q1520 160 1490 230M1960 60Q1940 200 1890 285Q1870 400 1820 500M1890 285Q1640 340 1480 600" stroke="#5b8073" stroke-width="32" fill="none"/><ellipse cx="1115" cy="440" rx="68" ry="75" fill="#e08aab"/><ellipse cx="1472" cy="287" rx="66" ry="76" fill="#e08aab"/><ellipse cx="1785" cy="560" rx="82" ry="82" fill="#e08aab"/><ellipse cx="1455" cy="655" rx="78" ry="78" fill="#e08aab"/><g transform="translate(590 175)"><path transform="rotate(-85.1)" d="M0 0L-77.8 -81.3C-108.0 -162.6 -118.8 -252.0 -105.8 -321.1C-92.9 -386.2 -48.6 -406.5 0 -406.5C48.6 -406.5 92.9 -386.2 105.8 -321.1C118.8 -252.0 108.0 -162.6 77.8 -81.3Z" fill="#8a3f8c"/><path transform="rotate(92.1)" d="M0 0L-77.8 -82.1C-108.0 -164.1 -118.8 -254.4 -105.8 -324.1C-92.9 -389.8 -48.6 -410.3 0 -410.3C48.6 -410.3 92.9 -389.8 105.8 -324.1C118.8 -254.4 108.0 -164.1 77.8 -82.1Z" fill="#8a3f8c"/><path transform="rotate(-151.2)" d="M0 0L-75.6 -78.8C-105.0 -157.5 -115.5 -244.2 -102.9 -311.1C-90.3 -374.2 -47.2 -393.9 0 -393.9C47.2 -393.9 90.3 -374.2 102.9 -311.1C115.5 -244.2 105.0 -157.5 75.6 -78.8Z" fill="#8a3f8c"/><path transform="rotate(159.7)" d="M0 0L-75.6 -86.4C-105.0 -172.8 -115.5 -267.8 -102.9 -341.2C-90.3 -410.3 -47.2 -431.9 0 -431.9C47.2 -431.9 90.3 -410.3 102.9 -341.2C115.5 -267.8 105.0 -172.8 75.6 -86.4Z" fill="#8a3f8c"/><path transform="rotate(-25.6)" d="M0 0L-72.0 -78.7C-100.0 -157.4 -110.0 -244.0 -98.0 -310.9C-86.0 -373.9 -45.0 -393.6 0 -393.6C45.0 -393.6 86.0 -373.9 98.0 -310.9C110.0 -244.0 100.0 -157.4 72.0 -78.7Z" fill="#8a3f8c"/><path transform="rotate(28.2)" d="M0 0L-72.0 -80.5C-100.0 -161.1 -110.0 -249.6 -98.0 -318.1C-86.0 -382.5 -45.0 -402.6 0 -402.6C45.0 -402.6 86.0 -382.5 98.0 -318.1C110.0 -249.6 100.0 -161.1 72.0 -80.5Z" fill="#8a3f8c"/><path transform="rotate(-85.1)" d="M-30.2 -109.8Q-54.0 -203.3 -45.4 -276.4M0 -109.8Q-6.5 -203.3 2.2 -300.8M30.2 -109.8Q54.0 -203.3 45.4 -276.4" fill="none" stroke="#5e2c8f" stroke-width="6" stroke-linecap="round"/><path transform="rotate(92.1)" d="M-30.2 -110.8Q-54.0 -205.1 -45.4 -279.0M0 -110.8Q-6.5 -205.1 2.2 -303.6M30.2 -110.8Q54.0 -205.1 45.4 -279.0" fill="none" stroke="#5e2c8f" stroke-width="6" stroke-linecap="round"/><path transform="rotate(-151.2)" d="M-29.4 -106.3Q-52.5 -196.9 -44.1 -267.8M0 -106.3Q-6.3 -196.9 2.1 -291.5M29.4 -106.3Q52.5 -196.9 44.1 -267.8" fill="none" stroke="#5e2c8f" stroke-width="6" stroke-linecap="round"/><path transform="rotate(159.7)" d="M-29.4 -116.6Q-52.5 -215.9 -44.1 -293.7M0 -116.6Q-6.3 -215.9 2.1 -319.6M29.4 -116.6Q52.5 -215.9 44.1 -293.7" fill="none" stroke="#5e2c8f" stroke-width="6" stroke-linecap="round"/><path transform="rotate(-25.6)" d="M-28.0 -106.3Q-50.0 -196.8 -42.0 -267.7M0 -106.3Q-6.0 -196.8 2.0 -291.3M28.0 -106.3Q50.0 -196.8 42.0 -267.7" fill="none" stroke="#5e2c8f" stroke-width="6" stroke-linecap="round"/><path transform="rotate(28.2)" d="M-28.0 -108.7Q-50.0 -201.3 -42.0 -273.8M0 -108.7Q-6.0 -201.3 2.0 -298.0M28.0 -108.7Q50.0 -201.3 42.0 -273.8" fill="none" stroke="#5e2c8f" stroke-width="6" stroke-linecap="round"/><circle r="70.2" fill="#fff"/><circle cx="59.4" cy="0.0" r="32.4" fill="#fff"/><circle cx="42.0" cy="42.0" r="32.4" fill="#fff"/><circle cx="0.0" cy="59.4" r="32.4" fill="#fff"/><circle cx="-42.0" cy="42.0" r="32.4" fill="#fff"/><circle cx="-59.4" cy="0.0" r="32.4" fill="#fff"/><circle cx="-42.0" cy="-42.0" r="32.4" fill="#fff"/><circle cx="-0.0" cy="-59.4" r="32.4" fill="#fff"/><circle cx="42.0" cy="-42.0" r="32.4" fill="#fff"/><circle r="38" fill="#8a3f8c"/></g></g>
</svg>
<!--/FLORA-BG-->
<!--HEADER-->
<div class="t" id="h1a" style="left:77px;top:60px;font-size:71px;font-weight:bold;color:#663399;-webkit-text-stroke:0.4px #663399">L’AUBRIETE,</div>
<div class="t" id="h1b" style="left:488.3px;top:60px;font-size:71px;font-weight:bold;color:#663399;-webkit-text-stroke:0.4px #663399">UN</div>
<div class="t" id="h1c" style="left:611px;top:60px;font-size:71px;font-weight:bold;color:#663399;-webkit-text-stroke:0.4px #663399">OUTIL</div>
<div class="t" id="h1d" style="left:841.4px;top:60px;font-size:71px;font-weight:bold;color:#663399;-webkit-text-stroke:0.4px #663399">DE</div>
<div class="t" id="h1e" style="left:941px;top:60px;font-size:71px;font-weight:bold;color:#663399;-webkit-text-stroke:0.4px #663399">SOUTIEN</div>
<div class="t" id="h1f" style="left:1263.8px;top:60px;font-size:71px;font-weight:bold;color:#663399;-webkit-text-stroke:0.4px #663399">PAR</div>
<div class="t" id="h1g" style="left:1414.2px;top:60px;font-size:71px;font-weight:bold;color:#663399;-webkit-text-stroke:0.4px #663399">LA</div>
<div class="t" id="h1h" style="left:1515.5px;top:60px;font-size:71px;font-weight:bold;color:#663399;-webkit-text-stroke:0.4px #663399">PRATIQUE</div>
<div class="t" id="h2a" style="left:74.7px;top:152px;font-size:40px;color:#6f6f6f">DES</div>
<div class="t" id="h2b" style="left:155.3px;top:152px;font-size:40px;color:#6f6f6f">MOMENTS</div>
<div class="t" id="h2c" style="left:369.5px;top:152px;font-size:40px;color:#6f6f6f">RESSOURCES</div>
<div class="t" id="h2d" style="left:618.9px;top:152px;font-size:40px;color:#6f6f6f">POUR</div>
<div class="t" id="h2e" style="left:738.5px;top:152px;font-size:40px;color:#6f6f6f">LES</div>
<div class="t" id="h2f" style="left:810.3px;top:152px;font-size:40px;color:#6f6f6f">FAMILLES</div>
<div class="t" id="h2g" style="left:996.4px;top:152px;font-size:40px;color:#6f6f6f">ET</div>
<div class="t" id="h2h" style="left:1052.6px;top:152px;font-size:40px;color:#6f6f6f">PROFESSIONNELS</div>
<div class="a" style="left:1647.5px;top:142px;width:486.5px;height:62px;background:#f9dd8b"></div>
<div class="t" id="pl" style="left:1696px;top:158px;font-size:31px;color:#4f2683">PLANNING DECEMBRE 2025</div>
<div class="c day" id="d1" style="left:367px;width:400px;top:326px">MARDI</div>
<div class="c day" id="d2" style="left:795px;width:400px;top:326px">MERCREDI</div>
<div class="c day" id="d3" style="left:1223px;width:400px;top:326px">JEUDI</div>
<div class="c day" id="d4" style="left:1650px;width:400px;top:327px">VENDREDI</div>
<!--LEFT-->
<div class="a" style="left:95px;top:496.5px;width:194.5px;height:194.5px;border-radius:50%;background:#663399"></div>
<div class="a" style="left:161.5px;top:371.5px;width:155.5px;height:155.5px;border-radius:50%;background:#f5b5b5"></div>
<div class="t" id="gr" style="left:201px;top:433px;font-size:30px;color:#4f2683">Gratuit</div>
<div class="c" id="in1" style="left:90px;width:200px;top:560px;font-size:30px;color:#fff">Inscrivez</div>
<div class="c" id="in2" style="left:90px;width:200px;top:599px;font-size:30px;color:#fff">vous !</div>
<div class="t" id="n1" style="left:82px;top:732px;font-size:22.5px;color:#1a1a1a">Nos ateliers sont</div>
<div class="t" id="n2" style="left:82px;top:763px;font-size:22.5px;color:#1a1a1a">itinérants et</div>
<div class="t" id="n3" style="left:82px;top:794px;font-size:22.5px;color:#1a1a1a">disponibles sur tout le</div>
<div class="t" id="n4" style="left:82px;top:824px;font-size:22.5px;color:#1a1a1a">département en</div>
<div class="t" id="n5" style="left:82px;top:855px;font-size:22.5px;color:#1a1a1a">fonction de vos</div>
<div class="t" id="n6" style="left:82px;top:886px;font-size:22.5px;color:#1a1a1a">besoins.</div>
<div class="t" id="n7" style="left:82px;top:916px;font-size:27px;color:#4f2683">Contactez-nous</div>
<div class="t" id="n8" style="left:82px;top:952px;font-size:26px;color:#4f2683">pour en savoir plus !</div>
<!--GRID-->
<div class="cell " style="left:357px;top:372px;width:421.5px;height:177px"></div>
<div class="cell " style="left:785.5px;top:372px;width:421.5px;height:177px"></div>
<div class="cell y" style="left:1213px;top:371px;width:420.5px;height:178px"></div>
<div class="cell " style="left:1640px;top:371px;width:421.5px;height:178px"></div>
<div class="cell " style="left:357px;top:555.5px;width:421.5px;height:177px"></div>
<div class="cell y" style="left:785px;top:555px;width:421.5px;height:177.5px"></div>
<div class="cell " style="left:1213px;top:555.5px;width:420.5px;height:177px"></div>
<div class="cell p" style="left:1640px;top:555px;width:421.5px;height:177.5px"></div>
<div class="cell y" style="left:357px;top:739px;width:422px;height:178px"></div>
<div class="cell " style="left:785px;top:738.5px;width:421.5px;height:177px"></div>
<div class="cell p" style="left:1211px;top:735px;width:421.5px;height:178.5px"></div>
<div class="cell " style="left:1639.5px;top:738.5px;width:421.5px;height:177px"></div>
<div class="cell " style="left:357px;top:922.5px;width:422px;height:177.5px"></div>
<div class="cell " style="left:785px;top:922.5px;width:421.5px;height:177.5px"></div>
<div class="cell " style="left:1212px;top:923px;width:421.5px;height:177.5px"></div>
<div class="cell " style="left:1640px;top:922.5px;width:421.5px;height:177.5px"></div>
<div class="bd " style="left:365px;top:380px">2</div>
<div class="bd " style="left:793px;top:380px">3</div>
<div class="bd " style="left:1220.5px;top:379.5px">4</div>
<div class="bd " style="left:1648px;top:379px">5</div>
<div class="bd " style="left:365px;top:564px">9</div>
<div class="bd " style="left:793px;top:563.5px">10</div>
<div class="bd " style="left:1220.5px;top:563.5px">11</div>
<div class="bd " style="left:1648px;top:563px">12</div>
<div class="bd " style="left:365px;top:747.5px">16</div>
<div class="bd " style="left:793px;top:747px">17</div>
<div class="bd " style="left:1232px;top:751.5px;padding-left:5px;line-height:57px">18</div>
<div class="bd " style="left:1648px;top:746px">19</div>
<div class="bd dk" style="left:365px;top:931.5px">23</div>
<div class="bd dk" style="left:793.5px;top:927.5px">24</div>
<div class="t" id="n25" style="left:1232px;top:942px;font-size:24px;font-weight:bold;color:#fff">25</div>
<div class="t" id="n26" style="left:1662.5px;top:940.5px;font-size:24px;font-weight:bold;color:#fff">26</div>
<div class="dots " style="left:382px;top:993px"><i></i><i></i><i></i><i></i><i></i><i></i><i></i></div>
<div class="dots " style="left:803px;top:992px;height:106px;overflow:hidden"><i></i><i></i><i></i><i></i><i></i><i></i><i></i><i></i></div>
<div class="dots lt" style="left:1238px;top:989px"><i></i><i></i><i></i><i></i><i></i><i></i><i></i></div>
<div class="dots lt" style="left:1666.5px;top:985px;height:104px;overflow:hidden"><i></i><i></i><i></i><i></i><i></i><i></i><i></i><i></i></div>
<div class="c ttl" id="e4t" style="left:1213px;width:420px;top:480px">MASSAGE BEBE</div>
<div class="c hr" id="e4h" style="left:1213px;width:420px;top:511px">9H30</div>
<div class="c ttl" id="e10t" style="left:785.5px;width:420px;top:664px">DECO DE NOËL</div>
<div class="c hr" id="e10h" style="left:785.5px;width:420px;top:694px">9H30</div>
<div class="c ttl" id="e12t" style="left:1640px;width:420px;top:664px">PAUSE DETENTE PARENT</div>
<div class="c hr" id="e12h" style="left:1640px;width:420px;top:694px">9H30</div>
<div class="c ttl" id="e16t" style="left:358px;width:420px;top:848.5px">PETITS GÂTEAUX DE NOËL</div>
<div class="c hr" id="e16h" style="left:358px;width:420px;top:878.5px">9H30</div>
<div class="c ttl" id="e18t" style="left:1212px;width:420px;top:844.5px">CUISINE ENTRE PARENTS</div>
<div class="c hr" id="e18h" style="left:1212px;width:420px;top:875.5px">9H30</div>
<div class="t" id="thann" style="left:1552px;top:434px;font-size:18.5px;font-weight:bold;color:#4f2683">THANN</div>
<div class="t" id="altk" style="left:696px;top:793px;font-size:18px;font-weight:bold;color:#4f2683">ALTKIRCH</div>
<div class="a" id="vac" style="left:2080.7px;top:1144px;width:300px;height:24px;transform-origin:0 0;transform:rotate(-90deg) scaleX(0.83);white-space:nowrap;font-size:24px;line-height:24px;font-weight:bold;color:#4f2683">VACANCES SCOLAIRES</div>
<!--ICONS-->
<svg style="left:1553.7px;top:389.8px" width="64.3" height="35.4" viewBox="0 0 64.2 35.4">
<path fill="#522b7d" fill-rule="evenodd" d="M3.6 .3H56.6Q60.6 .6 61.6 5L64 15.6Q64.2 17 64.2 19V29.4Q64.2 32 61.4 32H2.8Q.2 32 .2 29.4V3.7Q.2 .3 3.6 .3ZM3.1 3.3V15.2H15.2V3.3ZM17.4 3.3V15.2H29.4V3.3ZM32 3.3V15.2H43.9V3.3ZM46.5 3.3V15.2L51 19.3H61.5L60 6Q59.5 3.3 57 3.3Z"/>
<circle cx="10.3" cy="30.5" r="7.2" fill="#f8dd8a"/><circle cx="50.8" cy="30.5" r="7.2" fill="#f8dd8a"/>
<circle cx="10.3" cy="30.6" r="4.7" fill="#522b7d"/><circle cx="50.8" cy="30.6" r="4.7" fill="#522b7d"/></svg>
<svg style="left:704.4px;top:746.9px" width="64.3" height="35.6" viewBox="0 0 64.2 35.4">
<path fill="#522b7d" fill-rule="evenodd" d="M3.6 .3H56.6Q60.6 .6 61.6 5L64 15.6Q64.2 17 64.2 19V29.4Q64.2 32 61.4 32H2.8Q.2 32 .2 29.4V3.7Q.2 .3 3.6 .3ZM3.1 3.3V15.2H15.2V3.3ZM17.4 3.3V15.2H29.4V3.3ZM32 3.3V15.2H43.9V3.3ZM46.5 3.3V15.2L51 19.3H61.5L60 6Q59.5 3.3 57 3.3Z"/>
<circle cx="10.3" cy="30.5" r="7.2" fill="#f8dd8a"/><circle cx="50.8" cy="30.5" r="7.2" fill="#f8dd8a"/>
<circle cx="10.3" cy="30.6" r="4.7" fill="#522b7d"/><circle cx="50.8" cy="30.6" r="4.7" fill="#522b7d"/></svg>
<svg style="left:1395.6px;top:393px" width="58.5" height="69.5" viewBox="0 0 58.5 69.5" fill="none" stroke="#572c8e" stroke-linecap="round" stroke-linejoin="round" stroke-width="3.1">
<circle cx="18.8" cy="5.8" r="4.1"/>
<path d="M13.7 13.8Q16.8 12.6 19.6 14.8L29.6 25.2Q31.6 27.8 29.2 29.6Q27.3 30.6 25.6 28.8L17.8 23.7L9.6 38.8L10.1 63.7Q9.9 67.6 6.3 67.7Q2.7 67.6 2.5 63.7L1.4 34.5Q1.4 33 2.1 31.8L9.8 16.8Q11.2 14.4 13.7 13.8Z"/>
<path d="M20.6 31.6L25.4 40.4M26.2 34.8Q31 37.4 33.4 31.6Q35.6 28 37.4 32L38.6 35.2"/>
<circle cx="41.7" cy="37.6" r="3.1"/>
<rect x="15.2" y="41.9" width="41.7" height="4.1" rx="2.05" stroke-width="2.7"/>
<path d="M19.3 47.2V63.8Q19.3 67.2 22.7 67.2H49.4Q52.8 67.2 52.8 63.8V47.2"/></svg>
<svg style="left:963.3px;top:585.9px" width="71.2" height="69.9" viewBox="0 0 71.2 69.9" fill="none" stroke="#572c8e" stroke-linecap="round" stroke-linejoin="round" stroke-width="2.9">
<path d="M21.2 1.6C33 0.8 44 8 47 20C49.5 30 47.5 40 41 46C35 51 26 52 19.5 49C13 46 10.5 40 12 35.5C13.2 32 17 31.5 14.5 27.5C12 24 4 23.5 2 17C0.5 9 10 2.3 21.2 1.6Z"/>
<circle cx="12.2" cy="13.8" r="2.7"/><circle cx="23.4" cy="10.6" r="2.7"/><circle cx="34.5" cy="13.8" r="2.7"/><circle cx="38.2" cy="25.3" r="2.7"/><circle cx="34.8" cy="36.9" r="2.7"/><ellipse cx="21.2" cy="42.3" rx="2.6" ry="3.4"/>
<path d="M69.9 24.1Q71.2 25.5 69.5 27.5L37.2 62.4L32 57.6L66.6 24.6Q68.5 22.9 69.9 24.1Z" stroke-width="2.3"/>
<path d="M42.4 47.8L47.4 52.4L44 56.2L38.9 51.4Z" fill="#572c8e" stroke-width="1.4"/>
<path d="M30.6 58.8L36.2 63.8Q34.2 68.6 26.2 69.2Q26.8 62.4 30.6 58.8Z" stroke-width="2.5"/></svg>
<svg style="left:1811.9px;top:583.7px" width="68.6" height="62.6" viewBox="0 0 68.6 62.6" fill="none" stroke="#572c8e" stroke-linecap="round" stroke-linejoin="round" stroke-width="3">
<circle cx="34.3" cy="8" r="6.2"/>
<path d="M25.3 42.6V25.8L15.7 33.3L2.3 24.1A3.1 3.1 0 0 1 5.8 19L15.7 25.8L25.3 18.9H43.4L53 25.8L62.9 19A3.1 3.1 0 0 1 66.4 24.1L53 33.3L43.4 25.8V42.6"/>
<path d="M25.3 42.6C16 44.5 8.6 48 8.3 53.5Q8 61.2 14.5 61.4L34.3 54.5L54.1 61.4Q60.6 61.2 60.3 53.5C60 48 52.6 44.5 43.4 42.6Z"/>
<path d="M16.3 53.3L34.3 47.6L52.4 53.3" stroke-width="2.8"/></svg>
<svg style="left:514px;top:768px" width="86.3" height="60.4" viewBox="0 0 86.3 60.4" fill="none" stroke="#572c8e" stroke-linecap="round" stroke-linejoin="round" stroke-width="3.3">
<path d="M4.6 31.4L30 39.8" stroke-width="9"/><path d="M4.6 31.4L31.5 40.3" stroke="#f8dd8a" stroke-width="2.6"/>
<path d="M31 36.8H84.6Q85 50 78.5 56.5Q76 58.9 72 58.9H43.5Q39.5 58.9 37 56.5Q31 50 31 36.8Z"/>
<path d="M28.7 9.8C37.5 7.3 47.8 12 48.2 20.5L47.8 28.9L40 29.9C31 29.6 26.3 21 28.7 9.8ZM46.4 27.8L36.3 19.6" stroke-width="3.1"/>
<path d="M84.7 3.9C76 3.8 65.8 8 65.2 15.5L65.3 21.8L71 23.7C80 24.6 87.6 16 84.7 3.9ZM66.8 20.3L75.8 13.5" stroke-width="3.1"/>
<path d="M56.7 1C52 5 50 11.2 55.2 15.4C61.2 14 64 8 56.7 1Z" stroke-width="3"/>
<path d="M54.1 20C50.8 24 52.4 29.6 58.5 29.4C61.6 26 59.6 22 54.1 20Z" stroke-width="2.9"/></svg>
<svg style="left:1372.4px;top:776.8px" width="85.6" height="60.2" viewBox="0 0 86.3 60.4" fill="none" stroke="#572c8e" stroke-linecap="round" stroke-linejoin="round" stroke-width="3.3">
<path d="M4.6 31.4L30 39.8" stroke-width="9"/><path d="M4.6 31.4L31.5 40.3" stroke="#f5b5b5" stroke-width="2.6"/>
<path d="M31 36.8H84.6Q85 50 78.5 56.5Q76 58.9 72 58.9H43.5Q39.5 58.9 37 56.5Q31 50 31 36.8Z"/>
<path d="M28.7 9.8C37.5 7.3 47.8 12 48.2 20.5L47.8 28.9L40 29.9C31 29.6 26.3 21 28.7 9.8ZM46.4 27.8L36.3 19.6" stroke-width="3.1"/>
<path d="M84.7 3.9C76 3.8 65.8 8 65.2 15.5L65.3 21.8L71 23.7C80 24.6 87.6 16 84.7 3.9ZM66.8 20.3L75.8 13.5" stroke-width="3.1"/>
<path d="M56.7 1C52 5 50 11.2 55.2 15.4C61.2 14 64 8 56.7 1Z" stroke-width="3"/>
<path d="M54.1 20C50.8 24 52.4 29.6 58.5 29.4C61.6 26 59.6 22 54.1 20Z" stroke-width="2.9"/></svg>
<!--FOOTER-->
<div class="t" id="f1" style="left:279px;top:1334px;font-size:23px;color:#7f7f7f">Association Marguerite Sinclair</div>
<div class="t" id="f2" style="left:279px;top:1364px;font-size:23px;color:#7f7f7f">Lieu d’Accueil Enfant Parent « Capucine »</div>
<div class="t" id="f3" style="left:279px;top:1395px;font-size:23px;color:#7f7f7f">17 rue d’Illzach à Mulhouse</div>
<div class="t" id="f4" style="left:319px;top:1425px;font-size:23px;color:#7f7f7f">Ou en itinérance sur demande</div>
<div class="t" id="g1" style="left:744px;top:1334px;font-size:23px;color:#000">Pour s’inscrire ou pour toutes</div>
<div class="t" id="g2" style="left:744px;top:1364px;font-size:23px;color:#000">informations :</div>
<div class="t" id="g3" style="left:744px;top:1395px;font-size:23px;color:#767171">Tél. 03 89 32 81 50</div>
<div class="t" id="g4" style="left:744px;top:1425px;font-size:23px;color:#2563c2;text-decoration:underline;text-underline-offset:2px;text-decoration-thickness:1.5px">contact@sapph-alsace.fr</div>
<!--LOGOS-->
<svg style="left:74.5px;top:1319.8px" width="170.5" height="135.3" viewBox="0 0 170.5 135.3">
<rect width="170.5" height="78.6" fill="#3e7ea1"/><rect y="78.4" width="170.5" height="56.9" fill="#499681"/>
<path fill="#fff" d="M30.5 13.7C32.5 12.5 35 16.5 37 19.2C40 23 43.5 25.5 46.9 26.8C51 28.6 55.5 29.5 60.1 31.2C65 33 69.5 35.5 73.2 37.8C79 41.8 84.5 46 89.6 49.9C93.5 46.5 97 44 100.6 42.2C104 40 108 38 111.6 36.7C116.5 35 121.5 33.5 125.8 31.2C131 28.5 136.5 23 141.2 20.8C142 22.5 141.8 25 141.2 26.8C140.5 30.5 139.5 34.5 136.8 36.7C132.5 39.8 127.5 41.3 122.5 43.3C118.5 45.5 114.8 48.3 111.6 51C108.8 53.3 106 55.5 103.9 57C105.8 56.6 107.8 56.8 109.4 57.5C111.3 58 113.2 58.8 114.8 59.7C117 61 119.5 62.3 121.4 63.2C118.5 63.2 115.3 63.3 112.7 64.1C110.8 64.8 109 65.8 107.2 66.8C105 68 102.8 69 100.6 69.6C99 71 97 72 95.100 72.9C91.5 74.5 87.8 75.5 84.2 76.2C77 77.5 69.5 78.3 62.2 79.5C55.5 80.5 49 82.500 42.5 83.300C41.500 83 41.500 82.000 42.5 81.600C45.3 80 48.3 78.8 51.3 77.800C57 76 63 74.500 68.8 72.9C72.5 71.500 76 69.800 78.7 67.4C79.300 65.300 77.5 63.400 75.4 61.9C71 59 66.5 56.200 62.2 53.200C56.200 49.800 50 46.500 44.700 42.200C40.500 39 37.300 35.300 34.800 31.2C32.500 27.200 30.500 22.800 29.4 18.100C29.200 16.500 29.500 14.500 30.5 13.7Z"/>
<path d="M97.3 58.6Q101.5 62.500 100 69" fill="none" stroke="#3e7ea1" stroke-width="1.6"/>
<path d="M61.2 65.300L71 64.200M55.7 69.700L66.600 68.300M51.3 73.600L61.200 72.200" stroke="#fff" stroke-width="1.900" stroke-linecap="round"/>
<text id="sincl" x="10.8" y="122.2" font-family="'Liberation Serif',serif" font-size="42.5" fill="#fff" textLength="147" lengthAdjust="spacingAndGlyphs">Sinclair</text></svg>
<svg style="left:1100px;top:1315px" width="260" height="105" viewBox="0 0 2144 866">
<path d="M536 452L528 433L515 418L496 409L476 407L456 411L439 422L427 438L421 458L422 478L422 478L425 488L428 498L432 507L435 516L439 523L441 530L444 537L446 542L447 547L448 552L449 556L449 560L448 567L447 574L445 583L443 592L440 601L436 610L433 619L429 627L425 635L421 642L417 648L413 653L409 658L405 662L401 666L396 669L391 672L386 675L381 678L375 680L370 681L365 683L360 684L355 684L349 684L342 684L335 684L327 683L320 681L312 679L305 677L298 674L291 671L285 668L280 664L275 661L269 656L263 649L257 642L251 634L245 625L239 616L234 606L229 597L225 587L221 577L218 568L216 559L215 550L214 540L213 529L214 517L214 506L215 494L217 482L219 471L222 460L225 450L228 441L232 433L235 426L240 419L245 411L251 404L258 397L265 391L273 384L280 378L288 373L296 368L304 364L312 360L319 357L327 355L336 353L345 351L354 350L363 349L373 349L383 349L393 349L402 350L412 351L421 352L430 354L439 356L448 359L458 362L467 366L477 370L486 374L495 378L504 383L512 388L520 393L526 398L533 403L538 408L544 414L549 420L555 426L560 433L564 441L569 448L574 456L578 463L582 471L586 478L590 485L593 492L596 499L599 506L602 513L604 521L607 529L609 536L611 544L613 552L615 560L617 568L618 575L620 583L621 590L622 598L622 606L623 614L623 622L624 631L624 639L625 647L625 655L626 664L628 664L630 656L633 648L636 641L639 633L642 625L645 617L648 609L650 601L653 593L655 584L656 575L658 566L658 557L659 548L659 539L660 530L659 521L659 511L658 501L657 492L655 482L653 472L650 462L647 452L644 443L640 433L636 424L631 414L626 404L620 394L614 385L608 375L600 365L592 356L584 347L575 339L565 331L555 324L544 317L533 310L522 304L510 298L498 292L486 287L473 283L461 279L448 275L436 273L423 270L411 269L398 268L385 267L372 267L358 267L345 269L332 270L319 273L305 276L292 280L280 285L268 290L256 297L244 303L233 311L222 319L211 328L200 338L190 348L181 359L172 370L164 383L156 395L150 409L145 423L140 437L136 452L133 467L131 483L129 498L128 514L127 529L128 545L129 560L131 575L134 590L138 604L143 619L149 633L155 647L163 660L170 673L178 685L187 697L196 708L205 718L215 728L226 737L238 745L250 752L262 758L275 763L287 767L300 770L312 773L324 774L336 776L348 776L359 776L371 775L383 773L394 770L406 767L417 763L427 758L438 752L448 746L457 739L467 732L476 724L484 715L492 705L500 695L507 684L514 672L520 660L526 648L531 636L536 624L540 611L544 599L548 586L550 574L552 560L552 547L552 534L550 522L548 510L546 500L544 490L542 481L540 473L538 466L537 459L536 452Z" fill="#58a8df"/>
<path d="M260 261Q290 222 337 226Q385 228 398 251Q420 280 418 322Q420 370 413 404Q395 440 357 440Q320 436 296 414Q262 370 255 322Q252 285 260 261Z" fill="#2c6bb3"/>
<path d="M97 414Q120 405 150 380L128 372Q180 372 235 333Q262 370 266 414Q280 450 275 480Q262 512 235 516Q200 514 168 501Q125 478 107 445Q98 430 97 414Z" fill="#d9304f"/>
<path d="M281 572Q270 560 283 552Q290 503 357 503Q420 505 430 560Q448 575 432 590Q425 641 357 641Q290 640 281 572Z" fill="#dde03f"/>
<path d="M474 124L464 226" stroke="#d9304f" stroke-width="44" stroke-linecap="round"/>
<path d="M586 167L545 246" stroke="#dde03f" stroke-width="40" stroke-linecap="round"/>
<path d="M676 242L608 286" stroke="#2c6bb3" stroke-width="32" stroke-linecap="round"/>
<path d="M283 285Q305 262 325 275Q340 330 333 385L345 392M288 325L305 318M370 310L392 305M325 400Q355 418 382 392" fill="none" stroke="#fff" stroke-width="7" stroke-linecap="round"/>
<path d="M205 360Q185 400 205 440L230 455M135 438Q155 445 175 432M225 395L245 380M215 485Q232 498 246 482" fill="none" stroke="#fff" stroke-width="7" stroke-linecap="round"/>
<path d="M322 590Q352 618 392 592M335 548V556M378 552V560" fill="none" stroke="#fff" stroke-width="7" stroke-linecap="round"/>
<text x="684" y="610" font-family="'Liberation Sans',sans-serif" font-weight="bold" font-size="470" fill="#1a3d6e" stroke="#1a3d6e" stroke-width="26" textLength="1352" lengthAdjust="spacingAndGlyphs">SAPPH</text>
<rect x="1630" y="528" width="430" height="110" fill="#fff"/>
<text x="1650" y="610" font-family="'Liberation Sans',sans-serif" font-weight="bold" font-size="96" fill="#e0315a" textLength="385" lengthAdjust="spacingAndGlyphs">Alsace</text></svg>
<svg style="left:1400px;top:1320px" width="220" height="105" viewBox="0 0 2144 1023" font-family="'Liberation Serif',serif" font-style="italic" font-weight="normal">
<text x="120" y="690" font-size="760" fill="#7a22b8" stroke="#7a22b8" stroke-width="30" stroke-linejoin="round" textLength="300" lengthAdjust="spacingAndGlyphs">C</text>
<text x="345" y="590" font-size="440" fill="#7a22b8" stroke="#7a22b8" stroke-width="30" stroke-linejoin="round" textLength="440" lengthAdjust="spacingAndGlyphs">ap</text>
<text x="790" y="655" font-size="790" fill="#e2813a" stroke="#e2813a" stroke-width="30" stroke-linejoin="round" textLength="330" lengthAdjust="spacingAndGlyphs">P</text>
<text x="935" y="738" font-size="500" fill="#e2813a" stroke="#e2813a" stroke-width="30" stroke-linejoin="round" textLength="1095" lengthAdjust="spacingAndGlyphs">arents</text>
<text x="315" y="835" font-family="'Liberation Sans',sans-serif" font-style="normal" font-weight="bold" font-size="84" fill="#7a22b8" textLength="1580" lengthAdjust="spacingAndGlyphs">Soutenir les parents en situation de handicap</text>
<text x="1020" y="912" font-family="'Liberation Sans',sans-serif" font-style="normal" font-weight="normal" font-size="70" fill="#e2813a" textLength="820" lengthAdjust="spacingAndGlyphs">Périnatalité &amp; Parentalité</text></svg>
<svg style="left:1650px;top:1290px" width="150" height="195" viewBox="0 0 1158 1506">
<rect x="110" y="75" width="920" height="925" fill="#2e6db5"/><rect x="110" y="1000" width="920" height="425" fill="#4aa8a0"/>
<rect x="110" y="990" width="920" height="14" fill="#7fb8d8"/>
<rect x="165" y="475" width="810" height="50" fill="#b9c6ee"/>
<g fill="#fff" stroke="#fff" stroke-width="12" stroke-linejoin="round"><g transform="translate(625 250) scale(0.92)"><circle cx="0" cy="-98" r="31"/><path d="M-100 -52Q-96 -78 -72 -66L-28 -32H28L72 -66Q96 -78 100 -52Q101 -38 86 -28L42 8V78L0 56L-42 78V8L-86 -28Q-101 -38 -100 -52Z"/></g><g transform="translate(440 335) scale(0.92)"><circle cx="0" cy="-98" r="31"/><path d="M-100 -52Q-96 -78 -72 -66L-28 -32H28L72 -66Q96 -78 100 -52Q101 -38 86 -28L42 8V78L0 56L-42 78V8L-86 -28Q-101 -38 -100 -52Z"/></g><g transform="translate(780 335) scale(0.92)"><circle cx="0" cy="-98" r="31"/><path d="M-100 -52Q-96 -78 -72 -66L-28 -32H28L72 -66Q96 -78 100 -52Q101 -38 86 -28L42 8V78L0 56L-42 78V8L-86 -28Q-101 -38 -100 -52Z"/></g><g transform="translate(600 435) scale(0.92)"><circle cx="0" cy="-98" r="31"/><path d="M-100 -52Q-96 -78 -72 -66L-28 -32H28L72 -66Q96 -78 100 -52Q101 -38 86 -28L42 8V78L0 56L-42 78V8L-86 -28Q-101 -38 -100 -52Z"/></g><g transform="translate(410 515) scale(0.92)"><circle cx="0" cy="-98" r="31"/><path d="M-100 -52Q-96 -78 -72 -66L-28 -32H28L72 -66Q96 -78 100 -52Q101 -38 86 -28L42 8V78L0 56L-42 78V8L-86 -28Q-101 -38 -100 -52Z"/></g><g transform="translate(745 515) scale(0.92)"><circle cx="0" cy="-98" r="31"/><path d="M-100 -52Q-96 -78 -72 -66L-28 -32H28L72 -66Q96 -78 100 -52Q101 -38 86 -28L42 8V78L0 56L-42 78V8L-86 -28Q-101 -38 -100 -52Z"/></g><g transform="translate(565 615) scale(0.92)"><circle cx="0" cy="-98" r="31"/><path d="M-100 -52Q-96 -78 -72 -66L-28 -32H28L72 -66Q96 -78 100 -52Q101 -38 86 -28L42 8V78L0 56L-42 78V8L-86 -28Q-101 -38 -100 -52Z"/></g></g>
<g fill="#fff" font-family="'Liberation Sans',sans-serif">
<text x="195" y="835" font-size="92" font-style="italic" font-weight="bold" textLength="735" lengthAdjust="spacingAndGlyphs">ALLOCATIONS</text>
<text x="270" y="940" font-size="92" font-style="italic" font-weight="bold" textLength="570" lengthAdjust="spacingAndGlyphs">FAMILIALES</text>
<text x="438" y="1185" font-size="178" font-family="'Liberation Serif',serif" stroke="#fff" stroke-width="6" textLength="262" lengthAdjust="spacingAndGlyphs">Caf</text>
<text x="230" y="1315" font-size="105" font-weight="normal" stroke="#e9fbf8" stroke-width="4" textLength="685" lengthAdjust="spacingAndGlyphs" fill="#e9fbf8">du Haut-Rhin</text></g></svg>
<svg style="left:1830px;top:1335px" width="250" height="135" viewBox="0 0 2144 1158" font-family="'Liberation Sans',sans-serif">
<rect x="470" y="105" width="730" height="733" fill="#1e2a6e"/>
<path d="M558 490V165M558 330Q560 195 695 195Q832 195 834 330V490M834 330Q836 195 972 195Q1108 195 1110 330V490" fill="none" stroke="#fff" stroke-width="60"/>
<path d="M1080 550H640Q560 550 560 610Q560 665 640 665H740Q800 665 800 705Q800 750 740 750H528" fill="none" stroke="#fff" stroke-width="60"/>
<path d="M830 550H1010Q1110 550 1110 640V690Q1110 750 1180 760M1110 665H940Q870 665 870 710Q870 752 940 752H1110" fill="none" stroke="#fff" stroke-width="58"/>
<g stroke="#e9a23b" stroke-width="9"><path d="M1298 107H2030M1298 290H2030M1298 472H2030M1298 655H2030M1298 835H2030"/></g>
<g fill="#1e2a6e" font-weight="bold" font-size="141">
<text x="1308" y="245" textLength="405" lengthAdjust="spacingAndGlyphs">santé</text>
<text x="1308" y="428" textLength="492" lengthAdjust="spacingAndGlyphs">famille</text>
<text x="1308" y="608" textLength="538" lengthAdjust="spacingAndGlyphs">retraite</text>
<text x="1308" y="790" textLength="615" lengthAdjust="spacingAndGlyphs">services</text></g>
<text x="98" y="1035" font-size="140" fill="#4f5d92" textLength="622" lengthAdjust="spacingAndGlyphs">L’essentiel</text>
<text x="775" y="1052" font-size="195" font-weight="bold" fill="#e9a23b" textLength="140" lengthAdjust="spacingAndGlyphs">&amp;</text>
<text x="965" y="1035" font-size="140" fill="#4f5d92" textLength="700" lengthAdjust="spacingAndGlyphs">plus encore</text></svg>
<svg style="left:276.7px;top:1428.3px" width="31" height="17" viewBox="0 0 64.2 35.4">
<path fill="#767171" fill-rule="evenodd" d="M3.6 .3H56.6Q60.6 .6 61.6 5L64 15.6Q64.2 17 64.2 19V29.4Q64.2 32 61.4 32H2.8Q.2 32 .2 29.4V3.7Q.2 .3 3.6 .3ZM3.1 3.3V15.2H15.2V3.3ZM17.4 3.3V15.2H29.4V3.3ZM32 3.3V15.2H43.9V3.3ZM46.5 3.3V15.2L51 19.3H61.5L60 6Q59.5 3.3 57 3.3Z"/>
<circle cx="10.3" cy="30.5" r="7.2" fill="#fff"/><circle cx="50.8" cy="30.5" r="7.2" fill="#fff"/>
<circle cx="10.3" cy="30.6" r="4.7" fill="#767171"/><circle cx="50.8" cy="30.6" r="4.7" fill="#767171"/></svg>
</div>
<!--OVERLAY-->
<div class="a" style="left:0;top:1501px;width:2134px;height:5px;background:linear-gradient(#d9d9d9,#e6e6e6 35%,#efefef)"></div>
<div class="a" style="left:2134px;top:0;width:3px;height:1506px;background:linear-gradient(90deg,#f1f1f1,#f8f8f8)"></div>
<div class="a" style="left:0;top:0;width:1px;height:1506px;background:#e4e4e4"></div>
<div class="a" style="left:1766px;top:1472px;width:292px;height:34px;background:#f7f7f7;border-top-left-radius:6px;border-top-right-radius:6px;overflow:hidden">
<div class="a" style="left:30px;top:28px;width:22px;height:22px;border:1.5px solid #666;border-radius:50%"></div>
<div class="a" style="left:118px;top:28px;width:22px;height:22px;border:1.5px solid #666;border-radius:50%"></div></div>
</body>
</html>
